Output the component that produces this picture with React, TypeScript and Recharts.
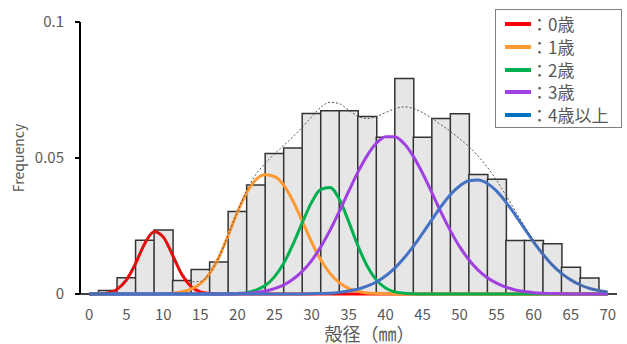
import React from "react";
import { ComposedChart, Bar, Line, XAxis, YAxis, Legend } from "recharts";

// histogram bins (2.5 mm wide), labelled by bin centre
const BIN_LABELS = [
  "0", "2.5", "5", "7.5", "10", "12.5", "15", "17.5", "20", "22.5",
  "25", "27.5", "30", "32.5", "35", "37.5", "40", "42.5", "45", "47.5",
  "50", "52.5", "55", "57.5", "60", "62.5", "65", "67.5", "70",
];
const BIN_FREQ = [
  0, 0.0013, 0.006, 0.0198, 0.0235, 0.005, 0.009, 0.0118, 0.0303, 0.0401,
  0.0517, 0.0537, 0.0664, 0.0674, 0.0674, 0.0653, 0.0576, 0.0792, 0.0576, 0.0645,
  0.0663, 0.0439, 0.0422, 0.0197, 0.0197, 0.0185, 0.0098, 0.0059, 0,
];

// boundaries between bins -> tick marks on the x axis
const BIN_EDGES = [
  -1.25, 1.25, 3.75, 6.25, 8.75, 11.25, 13.75, 16.25, 18.75, 21.25,
  23.75, 26.25, 28.75, 31.25, 33.75, 36.25, 38.75, 41.25, 43.75, 46.25,
  48.75, 51.25, 53.75, 56.25, 58.75, 61.25, 63.75, 66.25, 68.75, 71.25,
];

// shell size (mm) where the fitted curves were read
const CURVE_X = [
  0, 1.25, 2.5, 3.75, 5, 6.25, 7.5, 8.75, 10, 11.25,
  12.5, 13.75, 15, 16.25, 17.5, 18.75, 20, 21.25, 22.5, 23.75,
  25, 26.25, 27.5, 28.75, 30, 31.25, 32.5, 33.75, 35, 36.25,
  37.5, 38.75, 40, 41.25, 42.5, 43.75, 45, 46.25, 47.5, 48.75,
  50, 51.25, 52.5, 53.75, 55, 56.25, 57.5, 58.75, 60, 61.25,
  62.5, 63.75, 65, 66.25, 67.5, 68.75, 70,
];

const AGE0 = [
  0, 0.0001, 0.0004, 0.0017, 0.0051, 0.0112, 0.0186, 0.0229, 0.0209, 0.0143,
  0.0072, 0.0027, 0.0008, 0.0002, 0, 0, 0, 0, 0, 0,
  0, 0, 0, 0, 0, 0, 0, 0, 0, 0,
  0, 0, 0, 0, 0, 0, 0, 0, 0, 0,
  0, 0, 0, 0, 0, 0, 0, 0, 0, 0,
  0, 0, 0, 0, 0, 0, 0,
];
const AGE1 = [
  0, 0, 0, 0, 0, 0, 0, 0, 0.0001, 0.0003,
  0.0008, 0.0018, 0.0038, 0.0075, 0.0135, 0.0215, 0.03, 0.0372, 0.042, 0.0438,
  0.0432, 0.04, 0.0342, 0.0268, 0.0192, 0.0126, 0.0076, 0.0042, 0.0021, 0.001,
  0.0004, 0.0002, 0.0001, 0, 0, 0, 0, 0, 0, 0,
  0, 0, 0, 0, 0, 0, 0, 0, 0, 0,
  0, 0, 0, 0, 0, 0, 0,
];
const AGE2 = [
  0, 0, 0, 0, 0, 0, 0, 0, 0, 0,
  0, 0, 0, 0, 0, 0.0001, 0.0002, 0.0005, 0.0014, 0.0031,
  0.0063, 0.0113, 0.0182, 0.0262, 0.0336, 0.0385, 0.0392, 0.0349, 0.0268, 0.0179,
  0.0104, 0.0052, 0.0022, 0.0008, 0.0003, 0.0001, 0, 0, 0, 0,
  0, 0, 0, 0, 0, 0, 0, 0, 0, 0,
  0, 0, 0, 0, 0, 0, 0,
];
const AGE3 = [
  0, 0, 0, 0, 0, 0, 0, 0, 0, 0,
  0, 0, 0, 0, 0, 0, 0.0001, 0.0003, 0.0006, 0.0011,
  0.002, 0.0033, 0.0054, 0.0083, 0.0122, 0.0173, 0.0234, 0.0303, 0.0376, 0.0447,
  0.0508, 0.0554, 0.0578, 0.0578, 0.0553, 0.0506, 0.0444, 0.0373, 0.03, 0.0233,
  0.0174, 0.0126, 0.0088, 0.006, 0.004, 0.0025, 0.0015, 0.0009, 0.0005, 0.0003,
  0.0002, 0.0001, 0, 0, 0, 0, 0,
];
const AGE4 = [
  0, 0, 0, 0, 0, 0, 0, 0, 0, 0,
  0, 0, 0, 0, 0, 0, 0, 0, 0, 0,
  0, 0, 0, 0, 0.0001, 0.0002, 0.0003, 0.0006, 0.0011, 0.0018,
  0.0029, 0.0044, 0.0066, 0.0095, 0.0132, 0.0175, 0.0223, 0.0273, 0.0322, 0.0365,
  0.0397, 0.0416, 0.0419, 0.0406, 0.0378, 0.0338, 0.0291, 0.0241, 0.0191, 0.0146,
  0.0107, 0.0076, 0.0052, 0.0034, 0.0021, 0.0013, 0.0007,
];
// thin dotted envelope over all age groups
const TOTAL = [
  0, 0.0001, 0.0004, 0.0017, 0.0051, 0.0112, 0.0186, 0.0229, 0.021, 0.0146,
  0.008, 0.0045, 0.0046, 0.0077, 0.0135, 0.0216, 0.0303, 0.038, 0.044, 0.048,
  0.0515, 0.0546, 0.0578, 0.0613, 0.0651, 0.0686, 0.0705, 0.07, 0.0676, 0.0654,
  0.0645, 0.0652, 0.0667, 0.0681, 0.0688, 0.0682, 0.0667, 0.0646, 0.0622, 0.0598,
  0.0571, 0.0542, 0.0507, 0.0466, 0.0418, 0.0363, 0.0306, 0.025, 0.0196, 0.0149,
  0.0109, 0.0077, 0.0052, 0.0034, 0.0021, 0.0013, 0.0007,
];

const Y_TICKS = [0, 0.05, 0.1];

const SERIES = [
  { name: "0歳", color: "#ff0000", key: "#ff0000", values: AGE0 },
  { name: "1歳", color: "#ff9933", key: "#ff9933", values: AGE1 },
  { name: "2歳", color: "#00b050", key: "#00b050", values: AGE2 },
  { name: "3歳", color: "#a040e0", key: "#a040e0", values: AGE3 },
  { name: "4歳以上", color: "#4472c4", key: "#0070c0", values: AGE4 },
];

const FONT = '"Noto Sans CJK JP", "Noto Sans", sans-serif';
const TEXT = "#595959";

const binData = BIN_LABELS.map((label, i) => ({ label, freq: BIN_FREQ[i] }));
const toPoints = (values: number[]) => CURVE_X.map((x, i) => ({ x, y: values[i] }));

const XTitle = (props: any) => {
  const vb = props.viewBox || { x: 80, width: 537 };
  return (
    <text x={vb.x + vb.width / 2 + 21} y={341} textAnchor="middle"
      fill={TEXT} fontSize={18} fontFamily={FONT}>
      殻径（㎜）
    </text>
  );
};

const YTitle = (props: any) => {
  const vb = props.viewBox || { x: 0, y: 22, width: 80, height: 272 };
  const cx = vb.x + 18;
  const cy = vb.y + vb.height / 2;
  return (
    <text x={cx} y={cy} transform={`rotate(-90 ${cx} ${cy})`} textAnchor="middle" dominantBaseline="central"
      fill={TEXT} fontSize={14} fontFamily={FONT}>
      Frequency
    </text>
  );
};

const renderLegend = () => (
  <div style={{
    width: 127, height: 119, boxSizing: "border-box", border: "1px solid #7f7f7f",
    background: "#fff", paddingTop: 3, fontFamily: FONT,
  }}>
    {SERIES.map((s) => (
      <div key={s.name} style={{ display: "flex", alignItems: "center", height: 22.7 }}>
        <span style={{ display: "inline-block", width: 26, height: 4, background: s.key, marginLeft: 9 }} />
        <span style={{ fontSize: 17, lineHeight: "20px", color: TEXT, whiteSpace: "nowrap" }}>：{s.name}</span>
      </div>
    ))}
  </div>
);

export default function App() {
  return (
    <div style={{ position: "absolute", left: 0, top: 0, width: 627, height: 344, background: "#fff" }}>
      <ComposedChart
        width={627}
        height={344}
        data={binData}
        margin={{ top: 22, right: 10, bottom: 20, left: 0 }}
        barCategoryGap={0}
      >
        <XAxis
          xAxisId="bin"
          dataKey="label"
          interval={0}
          height={30}
          tickLine={false}
          tickMargin={9}
          axisLine={{ stroke: "#000", strokeWidth: 1.5 }}
          tick={{ fill: TEXT, fontSize: 15, fontFamily: FONT }}
          tickFormatter={(v: string, i: number) => (i % 2 === 0 ? v : "")}
          label={{ content: XTitle }}
          zIndex={0}
        />
        <XAxis
          xAxisId="mm"
          type="number"
          dataKey="x"
          domain={[-1.25, 71.25]}
          allowDataOverflow
          ticks={BIN_EDGES}
          interval={0}
          height={0}
          tick={false}
          tickSize={6}
          tickLine={{ stroke: "#000", strokeWidth: 1.5 }}
          axisLine={false}
          zIndex={0}
        />
        <YAxis
          yAxisId="f"
          domain={[0, 0.1]}
          ticks={Y_TICKS}
          interval={0}
          width={80}
          tickSize={5}
          tickMargin={11}
          axisLine={{ stroke: "#000", strokeWidth: 2 }}
          tickLine={{ stroke: "#000", strokeWidth: 2 }}
          tick={{ fill: TEXT, fontSize: 15, fontFamily: FONT }}
          label={{ content: YTitle }}
        />
        <Bar
          xAxisId="bin"
          yAxisId="f"
          dataKey="freq"
          fill="#e6e6e6"
          stroke="#333"
          strokeWidth={1.5}
          isAnimationActive={false}
        />
        {SERIES.map((s) => (
          <Line
            key={s.name}
            xAxisId="mm"
            yAxisId="f"
            data={toPoints(s.values)}
            dataKey="y"
            name={s.name}
            type="monotone"
            stroke={s.color}
            strokeWidth={3}
            dot={false}
            activeDot={false}
            isAnimationActive={false}
          />
        ))}
        <Line
          xAxisId="mm"
          yAxisId="f"
          data={toPoints(TOTAL)}
          dataKey="y"
          type="monotone"
          stroke="#555"
          strokeWidth={1}
          strokeDasharray="2 2"
          dot={false}
          activeDot={false}
          isAnimationActive={false}
        />
        <Legend
          layout="horizontal"
          verticalAlign="middle"
          align="center"
          content={renderLegend}
          wrapperStyle={{ top: 9, left: 495, width: 127, height: 119 }}
        />
      </ComposedChart>
    </div>
  );
}
